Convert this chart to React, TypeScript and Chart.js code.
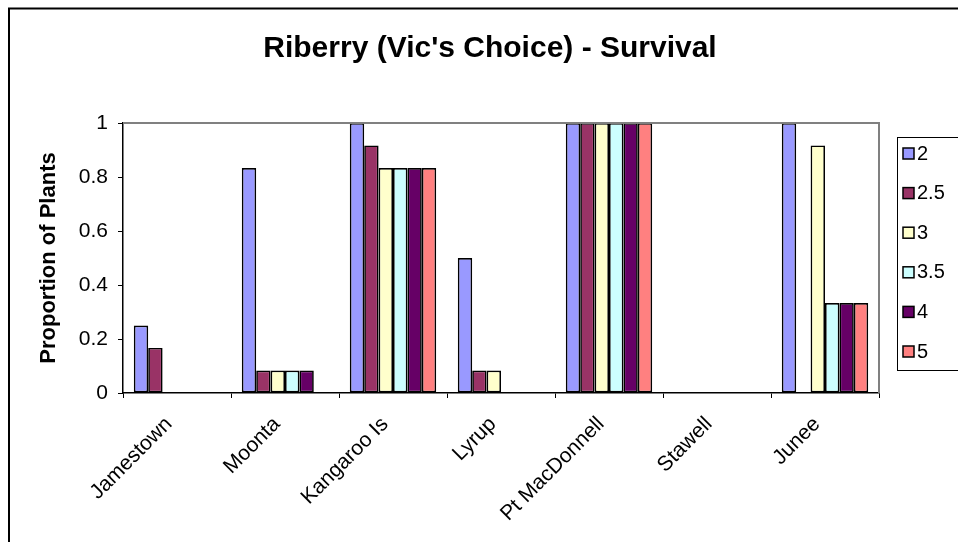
import React, { useEffect, useRef } from "react";
import { Chart, registerables } from "chart.js";

Chart.register(...registerables);

const categories = ["Jamestown", "Moonta", "Kangaroo Is", "Lyrup", "Pt MacDonnell", "Stawell", "Junee"];
const seriesNames = ["2", "2.5", "3", "3.5", "4", "5"];
const s2 = [0.25, 0.833, 1, 0.5, 1, 0, 1];
const s25 = [0.167, 0.083, 0.917, 0.083, 1, 0, 0];
const s3 = [0, 0.083, 0.833, 0.083, 1, 0, 0.917];
const s35 = [0, 0.083, 0.833, 0, 1, 0, 0.333];
const s4 = [0, 0.083, 0.833, 0, 1, 0, 0.333];
const s5 = [0, 0, 0.833, 0, 1, 0, 0.333];
const seriesValues = [s2, s25, s3, s35, s4, s5];
const seriesColors = ["#9999FF", "#993366", "#FFFFCC", "#CCFFFF", "#660066", "#FF8080"];
const yTicks = [0, 0.2, 0.4, 0.6, 0.8, 1];
const titleText = "Riberry (Vic's Choice) - Survival";
const yTitle = "Proportion of Plants";

const FONT = "'Liberation Sans', Arial, sans-serif";

const decorPlugin = {
  id: "decor",
  beforeDraw(chart: any) {
    const ctx = chart.ctx;
    ctx.save();
    ctx.fillStyle = "#ffffff";
    ctx.fillRect(0, 0, chart.width, chart.height);
    ctx.strokeStyle = "#000000";
    ctx.lineWidth = 2;
    ctx.beginPath();
    ctx.moveTo(9, chart.height);
    ctx.lineTo(9, 8.5);
    ctx.lineTo(chart.width, 8.5);
    ctx.stroke();
    ctx.restore();
  },
  afterDraw(chart: any) {
    const ctx = chart.ctx;
    const a = chart.chartArea;
    ctx.save();
    ctx.strokeStyle = "#808080";
    ctx.lineWidth = 2;
    ctx.beginPath();
    ctx.moveTo(a.left, a.top);
    ctx.lineTo(a.right, a.top);
    ctx.lineTo(a.right, a.bottom);
    ctx.stroke();
    // title
    ctx.fillStyle = "#000000";
    ctx.font = "bold 30px " + FONT;
    ctx.textAlign = "center";
    ctx.textBaseline = "middle";
    ctx.fillText(titleText, 490, 49);
    // legend
    const lx = 897;
    const ly = 137;
    const lh = 233;
    ctx.strokeStyle = "#000000";
    ctx.lineWidth = 1;
    ctx.strokeRect(lx + 0.5, ly + 0.5, 80, lh);
    ctx.font = "20px " + FONT;
    ctx.textAlign = "left";
    seriesNames.forEach((name, i) => {
      const cy = ly + 17 + i * 39.6;
      ctx.fillStyle = seriesColors[i];
      ctx.fillRect(903, cy - 6, 11, 11);
      ctx.lineWidth = 1.5;
      ctx.strokeStyle = "#000000";
      ctx.strokeRect(903, cy - 6, 11, 11);
      ctx.fillStyle = "#000000";
      ctx.fillText(name, 917, cy);
    });
    ctx.restore();
  },
};

export default function App() {
  const ref = useRef<HTMLCanvasElement>(null);
  useEffect(() => {
    if (!ref.current) return;
    const chart = new Chart(ref.current, {
      type: "bar",
      data: {
        labels: categories,
        datasets: seriesNames.map((n, i) => ({
          label: n,
          data: seriesValues[i],
          backgroundColor: seriesColors[i],
          borderColor: "#000000",
          borderWidth: (c: any) => (c.raw === 0 ? 0 : 1.7),
          borderSkipped: false,
          categoryPercentage: 0.8,
          barPercentage: 1.0,
        })),
      },
      options: {
        animation: false,
        responsive: false,
        maintainAspectRatio: false,
        layout: { padding: { left: 36, right: 79, top: 123, bottom: 0 } },
        plugins: {
          legend: { display: false },
          title: { display: false },
          tooltip: { enabled: false },
        },
        scales: {
          x: {
            grid: {
              drawOnChartArea: false,
              drawTicks: true,
              tickLength: 5,
              color: "#000000",
              lineWidth: 1,
            },
            border: { color: "#000000", width: 1.5 },
            ticks: {
              color: "#000000",
              font: { family: FONT, size: 21 },
              maxRotation: 45,
              minRotation: 45,
              autoSkip: false,
              padding: 14,
              labelOffset: -8,
            },
            afterFit(scale: any) {
              scale.height = 149;
            },
          },
          y: {
            min: 0,
            max: 1,
            afterBuildTicks(scale: any) {
              scale.ticks = yTicks.map((v) => ({ value: v }));
            },
            grid: {
              drawOnChartArea: false,
              drawTicks: true,
              tickLength: 5,
              color: "#000000",
              lineWidth: 1,
            },
            border: { color: "#000000", width: 1.5 },
            ticks: {
              color: "#000000",
              font: { family: FONT, size: 21 },
              padding: 10,
              callback: (v: any) => String(Math.round(v * 10) / 10),
            },
            title: {
              display: true,
              text: yTitle,
              color: "#000000",
              font: { family: FONT, size: 22, weight: "bold" },
              padding: 0,
            },
            afterFit(scale: any) {
              scale.width = 87;
            },
          },
        },
      },
      plugins: [decorPlugin],
    });
    return () => chart.destroy();
  }, []);
  return (
    <div style={{ position: "fixed", left: 0, top: 0, width: 958, height: 542, background: "#fff" }}>
      <canvas ref={ref} width={958} height={542} style={{ width: 958, height: 542 }} />
    </div>
  );
}
